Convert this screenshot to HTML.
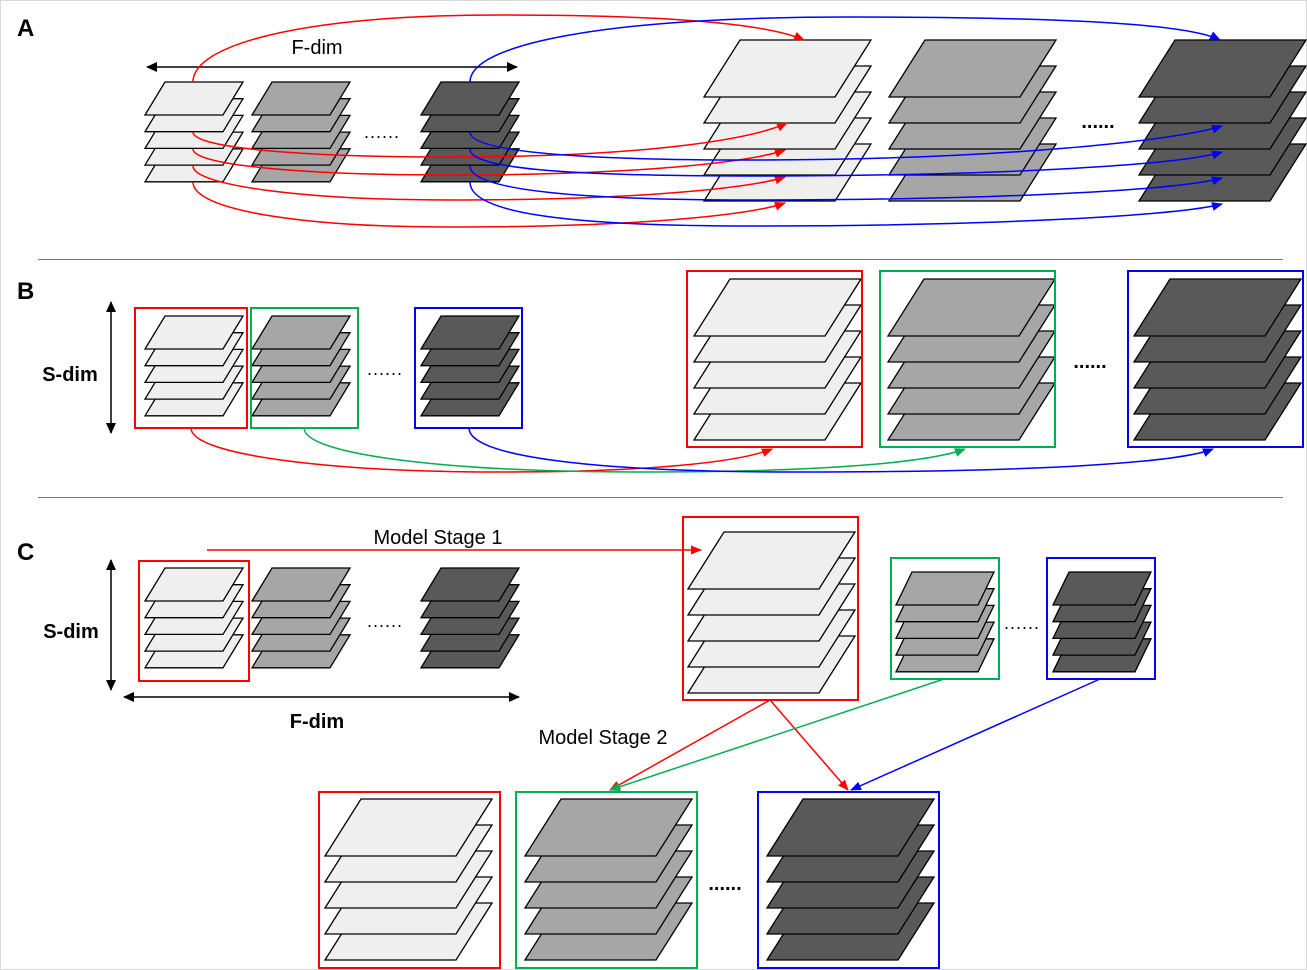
<!DOCTYPE html>
<html><head><meta charset="utf-8"><style>
html,body{margin:0;padding:0;background:#fff;}
svg{display:block;}
text{font-family:"Liberation Sans",Arial,sans-serif;}
</style></head><body>
<svg width="1307" height="970" viewBox="0 0 1307 970" xmlns="http://www.w3.org/2000/svg">
<defs>
<marker id="ar" markerWidth="12" markerHeight="12" refX="10" refY="6" orient="auto" markerUnits="userSpaceOnUse"><path d="M0,1.5 L11,6 L0,10.5 Z" fill="#f00"/></marker>
<marker id="ab" markerWidth="12" markerHeight="12" refX="10" refY="6" orient="auto" markerUnits="userSpaceOnUse"><path d="M0,1.5 L11,6 L0,10.5 Z" fill="#00f"/></marker>
<marker id="ag" markerWidth="12" markerHeight="12" refX="10" refY="6" orient="auto" markerUnits="userSpaceOnUse"><path d="M0,1.5 L11,6 L0,10.5 Z" fill="#00b050"/></marker>
<marker id="ak" markerWidth="12" markerHeight="12" refX="10" refY="6" orient="auto-start-reverse" markerUnits="userSpaceOnUse"><path d="M0,1 L11,6 L0,11 Z" fill="#000"/></marker>
<g id="small" stroke="#000" stroke-width="1.3" stroke-linejoin="miter">
<polygon points="20,66.8 98,66.8 78,99.8 0,99.8"/>
<polygon points="20,50.1 98,50.1 78,83.1 0,83.1"/>
<polygon points="20,33.4 98,33.4 78,66.4 0,66.4"/>
<polygon points="20,16.7 98,16.7 78,49.7 0,49.7"/>
<polygon points="20,0 98,0 78,33 0,33"/>
</g>
<g id="med" stroke="#000" stroke-width="1.3">
<polygon points="16,66.8 98,66.8 82,99.8 0,99.8"/>
<polygon points="16,50.1 98,50.1 82,83.1 0,83.1"/>
<polygon points="16,33.4 98,33.4 82,66.4 0,66.4"/>
<polygon points="16,16.7 98,16.7 82,49.7 0,49.7"/>
<polygon points="16,0 98,0 82,33 0,33"/>
</g>
<g id="big" stroke="#000" stroke-width="1.3">
<polygon points="36,104 167,104 131,161 0,161"/>
<polygon points="36,78 167,78 131,135 0,135"/>
<polygon points="36,52 167,52 131,109 0,109"/>
<polygon points="36,26 167,26 131,83 0,83"/>
<polygon points="36,0 167,0 131,57 0,57"/>
</g>
</defs>
<rect x="0.5" y="0.5" width="1306" height="969" fill="none" stroke="#d9d9d9"/>

<line x1="38" y1="259.5" x2="1283" y2="259.5" stroke="#777" stroke-width="1"/>
<line x1="38" y1="497.5" x2="1283" y2="497.5" stroke="#777" stroke-width="1"/>

<text x="17" y="36" font-size="24" font-weight="bold">A</text>
<text x="17" y="299" font-size="24" font-weight="bold">B</text>
<text x="17" y="560" font-size="24" font-weight="bold">C</text>

<!-- ===== Panel A ===== -->
<line x1="147" y1="67" x2="517" y2="67" stroke="#000" stroke-width="1.5" marker-start="url(#ak)" marker-end="url(#ak)"/>
<text x="317" y="54" font-size="20" text-anchor="middle">F-dim</text>
<use href="#small" x="145" y="82" fill="#efefef"/>
<use href="#small" x="252" y="82" fill="#a6a6a6"/>
<use href="#small" x="421" y="82" fill="#595959"/>
<text x="382" y="138" font-size="18" text-anchor="middle" letter-spacing="1">......</text>
<use href="#big" x="704" y="40" fill="#efefef"/>
<use href="#big" x="889" y="40" fill="#a6a6a6"/>
<use href="#big" x="1139" y="40" fill="#595959"/>
<text x="1098" y="128" font-size="20" font-weight="bold" text-anchor="middle">......</text>
<g fill="none" stroke-width="1.5">
<path d="M193,82 C193,45 300,15 500,15 C680,15 770,25 804,40" stroke="#f00" marker-end="url(#ar)"/>
<path d="M193,132 C193,148 300,157 450,157 C640,157 750,140 787,123" stroke="#f00" marker-end="url(#ar)"/>
<path d="M193,149 C193,165 300,175 450,175 C640,175 750,162 785,150" stroke="#f00" marker-end="url(#ar)"/>
<path d="M193,166 C193,185 300,200 450,200 C640,200 750,188 785,177" stroke="#f00" marker-end="url(#ar)"/>
<path d="M193,182 C193,210 300,227 450,227 C640,227 750,215 785,203" stroke="#f00" marker-end="url(#ar)"/>
<path d="M470,82 C470,45 600,17 850,17 C1080,17 1190,25 1220,40" stroke="#00f" marker-end="url(#ab)"/>
<path d="M470,132 C470,150 560,160 750,160 C1000,160 1180,140 1222,126" stroke="#00f" marker-end="url(#ab)"/>
<path d="M470,149 C470,168 560,176 750,176 C1000,176 1180,165 1222,152" stroke="#00f" marker-end="url(#ab)"/>
<path d="M470,166 C470,188 560,200 750,200 C1000,200 1180,190 1222,178" stroke="#00f" marker-end="url(#ab)"/>
<path d="M470,182 C470,212 560,226 750,226 C1000,226 1180,215 1222,204" stroke="#00f" marker-end="url(#ab)"/>
</g>

<!-- ===== Panel B ===== -->
<line x1="111" y1="302" x2="111" y2="433" stroke="#000" stroke-width="1.5" marker-start="url(#ak)" marker-end="url(#ak)"/>
<text x="70" y="381" font-size="20" font-weight="bold" text-anchor="middle">S-dim</text>
<use href="#small" x="145" y="316" fill="#efefef"/>
<use href="#small" x="252" y="316" fill="#a6a6a6"/>
<use href="#small" x="421" y="316" fill="#595959"/>
<rect x="135" y="308" width="112" height="120" fill="none" stroke="#f00" stroke-width="2"/>
<rect x="251" y="308" width="107" height="120" fill="none" stroke="#00b050" stroke-width="2"/>
<rect x="415" y="308" width="107" height="120" fill="none" stroke="#00f" stroke-width="2"/>
<text x="385" y="375" font-size="18" text-anchor="middle" letter-spacing="1">......</text>
<use href="#big" x="694" y="279" fill="#efefef"/>
<use href="#big" x="888" y="279" fill="#a6a6a6"/>
<use href="#big" x="1134" y="279" fill="#595959"/>
<rect x="687" y="271" width="175" height="176" fill="none" stroke="#f00" stroke-width="2"/>
<rect x="880" y="271" width="175" height="176" fill="none" stroke="#00b050" stroke-width="2"/>
<rect x="1128" y="271" width="175" height="176" fill="none" stroke="#00f" stroke-width="2"/>
<text x="1090" y="368" font-size="20" font-weight="bold" text-anchor="middle">......</text>
<g fill="none" stroke-width="1.5">
<path d="M191,428 C191,455 330,472 500,472 C650,472 740,462 772,449" stroke="#f00" marker-end="url(#ar)"/>
<path d="M304,428 C304,455 450,472 640,472 C830,472 930,462 965,449" stroke="#00b050" marker-end="url(#ag)"/>
<path d="M469,428 C469,455 580,472 800,472 C1050,472 1180,462 1213,449" stroke="#00f" marker-end="url(#ab)"/>
</g>

<!-- ===== Panel C ===== -->
<line x1="111" y1="560" x2="111" y2="690" stroke="#000" stroke-width="1.5" marker-start="url(#ak)" marker-end="url(#ak)"/>
<text x="71" y="638" font-size="20" font-weight="bold" text-anchor="middle">S-dim</text>
<line x1="124" y1="697" x2="519" y2="697" stroke="#000" stroke-width="1.5" marker-start="url(#ak)" marker-end="url(#ak)"/>
<text x="317" y="728" font-size="20" font-weight="bold" text-anchor="middle">F-dim</text>
<use href="#small" x="145" y="568" fill="#efefef"/>
<use href="#small" x="252" y="568" fill="#a6a6a6"/>
<use href="#small" x="421" y="568" fill="#595959"/>
<rect x="139" y="561" width="110" height="120" fill="none" stroke="#f00" stroke-width="2"/>
<text x="385" y="627" font-size="18" text-anchor="middle" letter-spacing="1">......</text>
<text x="438" y="544" font-size="20" text-anchor="middle">Model Stage 1</text>
<line x1="207" y1="550" x2="701" y2="550" stroke="#f00" stroke-width="1.5" marker-end="url(#ar)"/>
<use href="#big" x="688" y="532" fill="#efefef"/>
<rect x="683" y="517" width="175" height="183" fill="none" stroke="#f00" stroke-width="2"/>
<use href="#med" x="896" y="572" fill="#a6a6a6"/>
<use href="#med" x="1053" y="572" fill="#595959"/>
<rect x="891" y="558" width="108" height="121" fill="none" stroke="#00b050" stroke-width="2"/>
<rect x="1047" y="558" width="108" height="121" fill="none" stroke="#00f" stroke-width="2"/>
<text x="1022" y="629" font-size="18" text-anchor="middle" letter-spacing="1">......</text>
<text x="603" y="744" font-size="20" text-anchor="middle">Model Stage 2</text>
<g stroke-width="1.5" fill="none">
<line x1="770" y1="700" x2="610" y2="790" stroke="#f00" marker-end="url(#ar)"/>
<line x1="770" y1="700" x2="848" y2="790" stroke="#f00" marker-end="url(#ar)"/>
<line x1="944" y1="679" x2="610" y2="790" stroke="#00b050" marker-end="url(#ag)"/>
<line x1="1100" y1="679" x2="851" y2="790" stroke="#00f" marker-end="url(#ab)"/>
</g>
<use href="#big" x="325" y="799" fill="#efefef"/>
<use href="#big" x="525" y="799" fill="#a6a6a6"/>
<use href="#big" x="767" y="799" fill="#595959"/>
<rect x="319" y="792" width="181" height="176" fill="none" stroke="#f00" stroke-width="2"/>
<rect x="516" y="792" width="181" height="176" fill="none" stroke="#00b050" stroke-width="2"/>
<rect x="758" y="792" width="181" height="176" fill="none" stroke="#00f" stroke-width="2"/>
<text x="725" y="890" font-size="20" font-weight="bold" text-anchor="middle">......</text>
</svg>
</body></html>
